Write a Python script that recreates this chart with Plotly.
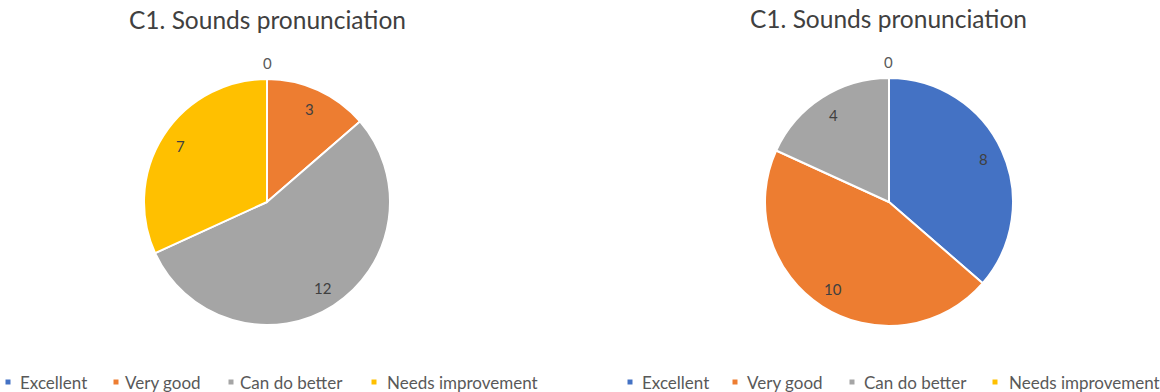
import math
import plotly.graph_objects as go

# Survey categories and response counts for the two groups
categories = ["Excellent", "Very good", "Can do better", "Needs improvement"]
group_a_counts = [0, 3, 12, 7]
group_b_counts = [8, 10, 4, 0]
chart_title = "C1. Sounds pronunciation"

colors = ["#4472C4", "#ED7D31", "#A5A5A5", "#FFC000"]
W, H = 1160, 392
FONT = "Lato"

# pie geometry in pixels: centre x, centre y (from top), radius
PIES = [(267, 202, 123), (889, 202, 124)]
TITLE_POS = [(267, 20), (888, 18)]
# legend key x positions (pixels) for each chart: square centre, text start
LEGEND_KEYS = [
    ([8, 116, 231, 374], [18, 123, 238, 385]),
    ([630, 735, 852, 995], [640, 745, 862, 1007]),
]
LEGEND_Y = 382


def px(x):
    return x / W


def py(y):
    return (H - y) / H


def pie(values, cx, cy, r):
    return go.Pie(
        labels=categories,
        values=values,
        sort=False,
        direction="clockwise",
        rotation=0,
        marker=dict(colors=colors, line=dict(color="white", width=2)),
        textinfo="none",
        domain=dict(x=[px(cx - r), px(cx + r)], y=[py(cy + r), py(cy - r)]),
        showlegend=False,
        hoverinfo="label+value+percent",
    )


def value_labels(values, cx, cy, r):
    # data labels at the middle angle of each slice (clockwise from 12 o'clock)
    total = sum(values)
    out = []
    acc = 0
    for v in values:
        mid = (acc + v / 2) / total * 2 * math.pi
        acc += v
        dist = r + 16 if v == 0 else 0.835 * r
        x = cx + dist * math.sin(mid)
        y = cy - dist * math.cos(mid)
        out.append(dict(
            text=str(v), x=px(x), y=py(y), xref="paper", yref="paper",
            showarrow=False, xanchor="center", yanchor="middle",
            font=dict(family=FONT, size=15,
                      color="#595959" if v == 0 else "#404040"),
        ))
    return out


def legend_items(key_x, text_x):
    shapes, notes = [], []
    for name, color, kx, tx in zip(categories, colors, key_x, text_x):
        shapes.append(dict(
            type="rect", xref="paper", yref="paper",
            x0=px(kx - 2.5), x1=px(kx + 2.5),
            y0=py(LEGEND_Y + 2.5), y1=py(LEGEND_Y - 2.5),
            fillcolor=color, line=dict(width=0),
        ))
        notes.append(dict(
            text=name, x=px(tx), y=py(LEGEND_Y), xref="paper", yref="paper",
            showarrow=False, xanchor="left", yanchor="middle",
            font=dict(family=FONT, size=17, color="#595959"),
        ))
    return shapes, notes


fig = go.Figure()
fig.add_trace(pie(group_a_counts, *PIES[0]))
fig.add_trace(pie(group_b_counts, *PIES[1]))

annotations, shapes = [], []
for tx, ty in TITLE_POS:
    annotations.append(dict(
        text=chart_title, x=px(tx), y=py(ty), xref="paper", yref="paper",
        showarrow=False, xanchor="center", yanchor="middle",
        font=dict(family=FONT, size=24.5, color="#404040"),
    ))
annotations += value_labels(group_a_counts, *PIES[0])
annotations += value_labels(group_b_counts, *PIES[1])
for key_x, text_x in LEGEND_KEYS:
    s, n = legend_items(key_x, text_x)
    shapes += s
    annotations += n

fig.update_layout(
    width=W,
    height=H,
    margin=dict(l=0, r=0, t=0, b=0, autoexpand=False),
    paper_bgcolor="white",
    plot_bgcolor="white",
    showlegend=False,
    annotations=annotations,
    shapes=shapes,
)

fig.write_html("out.html")
